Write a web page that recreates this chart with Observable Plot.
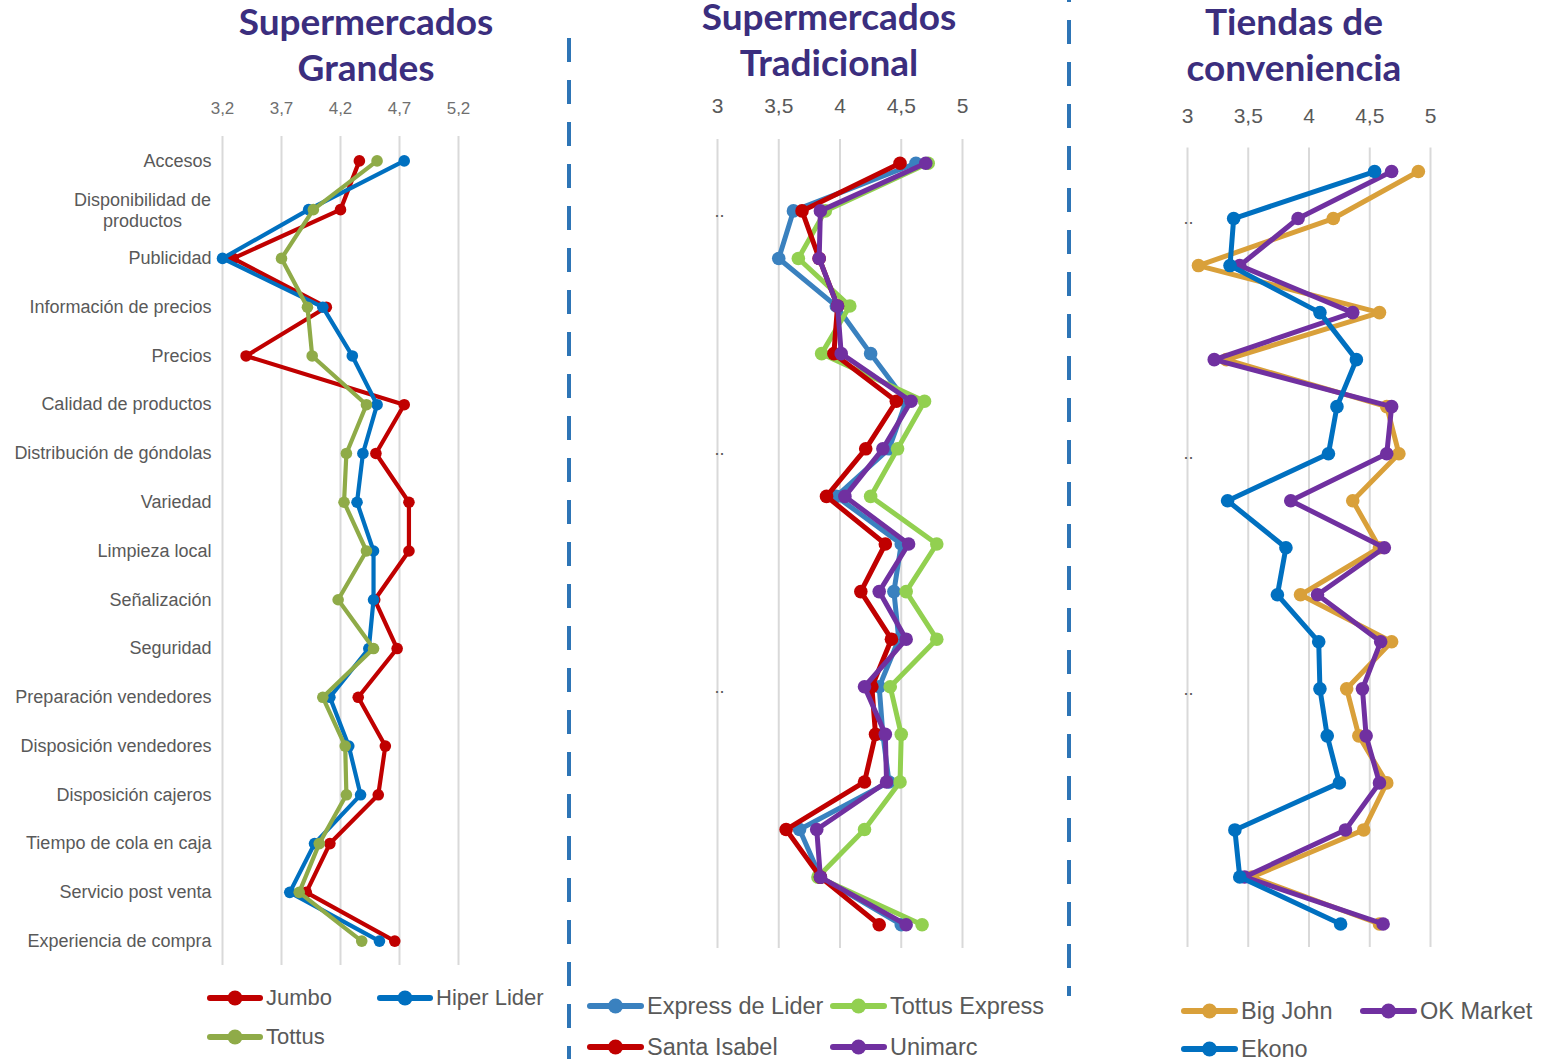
<!DOCTYPE html>
<html lang="es">
<head>
<meta charset="utf-8">
<script src="https://cdn.jsdelivr.net/npm/d3@7"></script>
<script src="https://cdn.jsdelivr.net/npm/@observablehq/plot@0.6"></script>
<style>
  body { margin: 0; background: #fff; }
  #page { position: relative; width: 1550px; height: 1059px; overflow: hidden; background: #fff;
          font-family: "Liberation Sans", Arial, sans-serif; }
  .title { position: absolute; font-family: Lato, "Open Sans", sans-serif; font-weight: 700; color: #3b2e7e;
           font-size: 37px; line-height: 30px; height: 30px; text-align: center; white-space: nowrap; }
  .panel { position: absolute; }
  .sep { position: absolute; width: 4px;
         background: repeating-linear-gradient(to bottom, #2e75b6 0 24px, transparent 24px 42px); }
  .leg { position: absolute; display: flex; align-items: center; height: 30px; white-space: nowrap; color: #595959; }
  .leg svg { display: block; margin-right: 3px; }
</style>
</head>
<body>
<div id="page"></div>
<script>
// Atributos evaluados (mismo orden en los tres paneles)
const categorias = [
  "Accesos", "Disponibilidad de productos", "Publicidad", "Información de precios", "Precios",
  "Calidad de productos", "Distribución de góndolas", "Variedad", "Limpieza local", "Señalización",
  "Seguridad", "Preparación vendedores", "Disposición vendedores", "Disposición cajeros",
  "Tiempo de cola en caja", "Servicio post venta", "Experiencia de compra"
];

// Supermercados Grandes
const seriesGrandes = ["Jumbo", "Hiper Lider", "Tottus"];
const jumbo      = [4.36, 4.20, 3.29, 4.08, 3.40, 4.74, 4.50, 4.78, 4.78, 4.49, 4.68, 4.35, 4.58, 4.52, 4.11, 3.91, 4.66];
const hiperLider = [4.74, 3.93, 3.20, 4.05, 4.30, 4.51, 4.39, 4.34, 4.48, 4.48, 4.44, 4.11, 4.27, 4.37, 3.98, 3.77, 4.53];
const tottus     = [4.51, 3.97, 3.70, 3.92, 3.96, 4.42, 4.25, 4.23, 4.42, 4.18, 4.48, 4.05, 4.24, 4.25, 4.02, 3.85, 4.38];
const ticksGrandes = [3.2, 3.7, 4.2, 4.7, 5.2];

// Supermercados Tradicional
const seriesTradicional = ["Express de Lider", "Tottus Express", "Santa Isabel", "Unimarc"];
const expressLider  = [4.62, 3.62, 3.50, 3.97, 4.25, 4.54, 4.40, 3.97, 4.50, 4.44, 4.48, 4.32, 4.35, 4.40, 3.67, 3.84, 4.50];
const tottusExpress = [4.72, 3.88, 3.66, 4.08, 3.85, 4.69, 4.47, 4.25, 4.79, 4.54, 4.79, 4.41, 4.50, 4.49, 4.20, 3.82, 4.67];
const santaIsabel   = [4.49, 3.69, 3.83, 3.98, 3.95, 4.46, 4.21, 3.89, 4.37, 4.17, 4.42, 4.26, 4.29, 4.20, 3.56, 3.84, 4.32];
const unimarc       = [4.70, 3.84, 3.83, 3.98, 4.01, 4.58, 4.35, 4.04, 4.56, 4.32, 4.54, 4.20, 4.37, 4.38, 3.81, 3.84, 4.54];
const ticksTradicional = [3, 3.5, 4, 4.5, 5];

// Tiendas de conveniencia
const seriesConveniencia = ["Big John", "OK Market", "Ekono"];
const bigJohn  = [4.90, 4.20, 3.09, 4.58, 3.32, 4.64, 4.74, 4.36, 4.58, 3.93, 4.68, 4.31, 4.41, 4.64, 4.45, 3.53, 4.58];
const okMarket = [4.68, 3.91, 3.43, 4.36, 3.22, 4.68, 4.64, 3.85, 4.62, 4.07, 4.59, 4.44, 4.47, 4.58, 4.30, 3.47, 4.61];
const ekono    = [4.54, 3.38, 3.35, 4.09, 4.39, 4.23, 4.16, 3.33, 3.81, 3.74, 4.08, 4.09, 4.15, 4.25, 3.39, 3.43, 4.26];
const ticksConveniencia = [3, 3.5, 4, 4.5, 5];

const titulos = [["Supermercados", "Grandes"], ["Supermercados", "Tradicional"], ["Tiendas de", "conveniencia"]];

const page = document.getElementById("page");
const coma = d => String(d).replace(".", ",");

function tabla(nombres, valores) {
  return nombres.map((s, i) => categorias.map((c, j) => ({serie: s, categoria: c, valor: valores[i][j]})));
}

function panel(cfg) {
  const grupos = tabla(cfg.series, cfg.valores);
  const marks = [
    Plot.gridX({ticks: cfg.ticks, stroke: "#d9d9d9", strokeOpacity: 1, strokeWidth: 2}),
    Plot.axisX({ticks: cfg.ticks, anchor: "top", tickSize: 0, tickPadding: cfg.tickPadding,
                tickFormat: coma, fontSize: cfg.tickFont, fill: cfg.tickColor})
  ];
  if (cfg.etiquetas) {
    marks.push(Plot.axisY({ticks: categorias.filter((c, i) => i !== 1), tickSize: 0, tickPadding: 11,
                           fontSize: 18, fill: "#595959"}));
    marks.push(Plot.axisY({ticks: [categorias[1]], tickSize: 0, tickPadding: 11, textAnchor: "middle",
                           dx: -69, lineHeight: 1.2, fontSize: 18, fill: "#595959",
                           tickFormat: () => "Disponibilidad de\nproductos"}));
  } else {
    marks.push(Plot.axisY({ticks: [categorias[1], categorias[6], categorias[11]], tickSize: 0,
                           tickPadding: cfg.dotPadding, fontSize: 18, fill: "#595959", tickFormat: () => ".."}));
  }
  grupos.forEach((filas, i) => {
    marks.push(Plot.line(filas, {x: "valor", y: "categoria", stroke: cfg.colores[i], strokeWidth: cfg.sw}));
    marks.push(Plot.dot(filas, {x: "valor", y: "categoria", fill: cfg.colores[i], r: cfg.r}));
  });
  const svg = Plot.plot({
    width: cfg.width, height: cfg.height,
    marginLeft: cfg.ml, marginRight: cfg.mr, marginTop: cfg.mt, marginBottom: cfg.mb,
    x: {domain: [cfg.ticks[0], cfg.ticks[cfg.ticks.length - 1]], label: null},
    y: {type: "point", domain: categorias, padding: 0.5, round: false, label: null},
    style: {fontFamily: "'Liberation Sans', Arial, sans-serif", color: "#595959", background: "transparent", overflow: "visible"},
    marks
  });
  const wrap = document.createElement("div");
  wrap.className = "panel";
  wrap.style.left = cfg.left + "px";
  wrap.style.top = cfg.top + "px";
  wrap.appendChild(svg);
  page.appendChild(wrap);

  cfg.leyenda.forEach(([x, y], i) => {
    const d = document.createElement("div");
    d.className = "leg";
    d.style.left = x + "px";
    d.style.top = (y - 15) + "px";
    d.style.fontSize = cfg.legFont + "px";
    const w = cfg.legW;
    d.innerHTML = `<svg width="${w}" height="30"><line x1="3" x2="${w - 3}" y1="15" y2="15" stroke="${cfg.colores[i]}" stroke-width="6" stroke-linecap="round"/><circle cx="${w / 2}" cy="15" r="7.5" fill="${cfg.colores[i]}"/></svg><span>${cfg.series[i]}</span>`;
    page.appendChild(d);
  });
}

panel({
  left: 0, top: 80, width: 560, height: 887, ml: 222, mr: 102, mt: 56, mb: 2,
  ticks: ticksGrandes, tickPadding: 23, tickFont: 17, tickColor: "#6f6f6f",
  series: seriesGrandes, valores: [jumbo, hiperLider, tottus],
  colores: ["#c00000", "#0070c0", "#8fab48"], sw: 4.2, r: 5.8, etiquetas: true,
  legW: 56, legFont: 22, leyenda: [[207, 998], [377, 998], [207, 1037]]
});

panel({
  left: 570, top: 80, width: 500, height: 870, ml: 147, mr: 108, mt: 59, mb: 2,
  ticks: ticksTradicional, tickPadding: 27, tickFont: 21, tickColor: "#595959", dotPadding: -7,
  series: seriesTradicional, valores: [expressLider, tottusExpress, santaIsabel, unimarc],
  colores: ["#3a81bf", "#92d050", "#c00000", "#7030a0"], sw: 5, r: 6.8, etiquetas: false,
  legW: 57, legFont: 23.5, leyenda: [[587, 1006], [830, 1006], [587, 1047], [830, 1047]]
});

panel({
  left: 1070, top: 80, width: 480, height: 869, ml: 117, mr: 120, mt: 67.5, mb: 2,
  ticks: ticksConveniencia, tickPadding: 25, tickFont: 21, tickColor: "#595959", dotPadding: -6,
  series: seriesConveniencia, valores: [bigJohn, okMarket, ekono],
  colores: ["#d9a03a", "#7030a0", "#0070c0"], sw: 5, r: 6.8, etiquetas: false,
  legW: 57, legFont: 23.5, leyenda: [[1181, 1011], [1360, 1011], [1181, 1049]]
});

// Títulos de cada panel, una línea por bloque
[[366, 6], [829, 1], [1294, 6]].forEach(([cx, top], i) => {
  titulos[i].forEach((linea, k) => {
    const t = document.createElement("div");
    t.className = "title";
    t.style.left = (cx - 200) + "px";
    t.style.width = "400px";
    t.style.top = (top + 46 * k) + "px";
    t.textContent = linea;
    page.appendChild(t);
  });
});

// Separadores discontinuos entre paneles
[[567, 38, 1021], [1067, -22, 1018]].forEach(([x, y, h]) => {
  const s = document.createElement("div");
  s.className = "sep";
  s.style.left = x + "px";
  s.style.top = y + "px";
  s.style.height = h + "px";
  page.appendChild(s);
});
</script>
</body>
</html>
